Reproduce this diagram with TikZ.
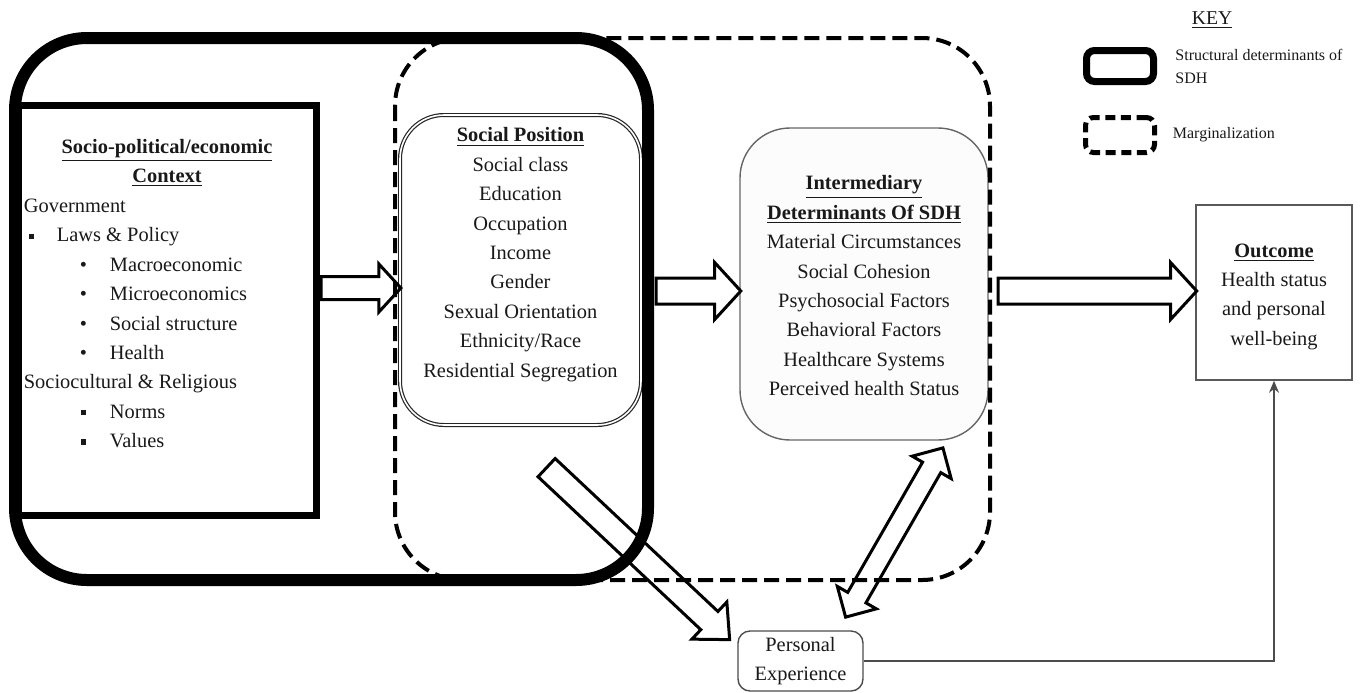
\documentclass[tikz,border=0pt]{standalone}
\usepackage{fontspec}
\setmainfont{Liberation Serif}
\usetikzlibrary{shapes.arrows, arrows.meta, positioning, calc}

\newcommand{\sqbullet}{\raisebox{1.5pt}{\rule{2.6pt}{2.6pt}}}
\newcommand{\lvlone}[1]{\hspace*{2.5pt}\makebox[14pt][l]{\sqbullet}#1}
\newcommand{\lvltwo}[1]{\hspace*{28pt}\makebox[15pt][l]{\textbullet}#1}
\newcommand{\lvlsq}[1]{\hspace*{28.5pt}\makebox[14.5pt][l]{\sqbullet}#1}
\newcommand{\blockconn}[3][]{%
  \path let \p1=($(#3)-(#2)$), \n1={veclen(\x1,\y1)} in
    (#2) -- (#3) node[pos=0, anchor=tail, sloped, blockarrow, minimum height=\n1, #1] {};}

\begin{document}
\begin{tikzpicture}[x=0.5pt, y=-0.5pt,
        txt/.style={font=\fontsize{10.2}{14.7}\selectfont, text=black!90, inner sep=0pt, align=center},
        keytxt/.style={font=\fontsize{8}{11.5}\selectfont, text=black!90, inner sep=0pt, align=left},
        structural/.style={line width=6pt, rounded corners=36pt},
        margin/.style={line width=2pt, dash pattern=on 7.5pt off 3.5pt, rounded corners=34pt},
        ctxbox/.style={draw, line width=3.5pt, minimum width=149pt, minimum height=205pt, inner sep=0pt},
        posbox/.style={draw=black!85, double=white, double distance=0.8pt, line width=0.6pt, fill=white,
            rounded corners=22pt, minimum width=120.5pt, minimum height=155pt, inner sep=0pt},
        interbox/.style={draw=black!60, line width=0.7pt, fill=black!1, rounded corners=25pt,
            minimum width=124pt, minimum height=156pt, inner sep=0pt},
        outbox/.style={draw=black!65, line width=0.8pt, minimum width=78pt, minimum height=87.5pt, inner sep=0pt},
        persbox/.style={txt, draw=black!70, line width=0.7pt, rounded corners=6pt,
            minimum width=62.5pt, minimum height=30pt},
        blockarrow/.style={single arrow, draw=black, line width=1.5pt, inner xsep=0pt, inner ysep=5.5pt,
            allow upside down, single arrow head extend=7pt, single arrow tip angle=95},
        dblarrow/.style={double arrow, pos=0.5, anchor=center, inner ysep=4.5pt,
            double arrow head extend=6pt, double arrow tip angle=90},
        feedback/.style={draw=black!70, line width=0.8pt, -{Stealth[length=6pt, width=5pt]}}
    ]
    \useasboundingbox (0,0) rectangle (1360,692);

    % Boxes
    \node[ctxbox] (socio) at (167,310) {};
    \node[posbox] (social) at (520.5,270) {};
    \node[interbox] (inter) at (864,284) {};
    \node[outbox] (outc) at (1274,292.5) {};
    \node[persbox] (pers) at (800.5,661) {Personal\\Experience};

    % Texts
    \node[txt, below=18.5pt of socio.north] (socioTitle)
        {\textbf{\underline{Socio-political/economic}}\\\textbf{\underline{Context}}};
    \node[txt, align=left, anchor=north west] (socioList) at ($(socio.north west)+(9,97)$)
        {Government\\
         \lvlone{Laws \& Policy}\\
         \lvltwo{Macroeconomic}\\
         \lvltwo{Microeconomics}\\
         \lvltwo{Social structure}\\
         \lvltwo{Health}\\
         Sociocultural \& Religious\\
         \lvlsq{Norms}\\
         \lvlsq{Values}};
    \node[txt, below=6.5pt of social.north] (socialText)
        {\textbf{\underline{Social Position}}\\Social class\\Education\\Occupation\\Income\\Gender\\
         Sexual Orientation\\Ethnicity/Race\\Residential Segregation};
    \node[txt, below=24pt of inter.north] (interText)
        {\textbf{\underline{Intermediary}}\\\textbf{\underline{Determinants Of SDH}}\\Material Circumstances\\
         Social Cohesion\\Psychosocial Factors\\Behavioral Factors\\Healthcare Systems\\Perceived health Status};
    \node[txt, below=19.5pt of outc.north] (outcText)
        {\textbf{\underline{Outcome}}\\Health status\\and personal\\well-being};

    % Regions
    \draw[margin] (395,38) rectangle (990,580);
    \draw[structural] (15,38) rectangle (648,580);

    % Key
    \node[txt, font=\fontsize{9.8}{12}\selectfont] (keyTitle) at (1212,20) {\underline{KEY}};
    \node[draw, line width=3.5pt, rounded corners=4pt, minimum width=33.5pt, minimum height=15.5pt] (keyStruct) at (1120,66) {};
    \node[keytxt, right=9pt of keyStruct] (keyStructLbl) {Structural determinants of\\SDH};
    \node[draw, line width=2.5pt, dash pattern=on 5pt off 2.8pt, rounded corners=4pt,
        minimum width=34.5pt, minimum height=17.5pt] (keyMarg) at (1120,135) {};
    \node[keytxt, right=7.75pt of keyMarg] (keyMargLbl) {Marginalization};

    % Block arrows
    \coordinate (a1s) at (socio.east |- 0,288);
    \coordinate (a1e) at (social.west |- 0,288);
    \coordinate (a2s) at ($(social.east |- 0,291)+(13,0)$);
    \coordinate (a2e) at (inter.west |- 0,291);
    \coordinate (a3s) at ($(inter.east |- 0,291)+(8,0)$);
    \coordinate (a3e) at (outc.west |- 0,291);
    \coordinate (a4s) at ($(social.south)+(25,41)$);
    \coordinate (a4e) at ($(pers.north west)+(-8,9)$);
    \coordinate (a5s) at ($(inter.south)+(79,7)$);
    \coordinate (a5e) at ($(pers.north)+(45,-13)$);
    \blockconn[name=arrCtx, inner ysep=5pt, single arrow head extend=6.25pt]{a1s}{a1e}
    \blockconn[name=arrPos, inner ysep=5.75pt, single arrow head extend=7.75pt]{a2s}{a2e}
    \blockconn[name=arrInt, inner ysep=5.75pt, single arrow head extend=7.75pt]{a3s}{a3e}
    \blockconn[name=arrExp, inner ysep=5.5pt, single arrow head extend=6.5pt, single arrow tip angle=85]{a4s}{a4e}
    \blockconn[name=arrBoth, dblarrow]{a5s}{a5e}

    % Feedback line
    \draw[feedback] (pers.east) -| (outc.south);
\end{tikzpicture}
\end{document}
